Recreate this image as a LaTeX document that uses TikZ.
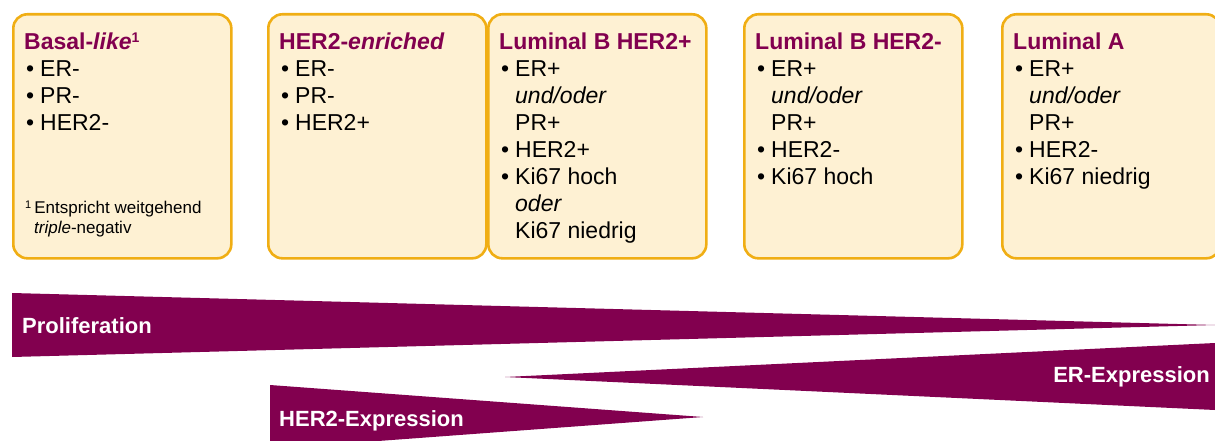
\documentclass[tikz,border=0pt]{standalone}
\usepackage{fontspec}
\setmainfont{Liberation Sans}
\usepackage{tikz}
\usetikzlibrary{calc}
\usepackage{xcolor}
\definecolor{lila}{HTML}{82004F}
\definecolor{creme}{HTML}{FEF1D3}
\definecolor{gold}{HTML}{F0AE14}
\newcommand{\pkt}[1]{\makebox[16pt][l]{\hspace{2pt}\textbullet}#1}
\newcommand{\weiter}[1]{\hspace*{16pt}#1}
\newcommand{\titel}[1]{\rule{0pt}{22pt}\textcolor{lila}{\bfseries #1}}
\newcommand{\hoch}[2]{\raisebox{#2}{\fontsize{#1}{#1}\selectfont 1}}
\tikzset{
    kasten/.style = {draw = gold, line width = 2.6pt, fill = creme, rounded corners = 14pt,
        minimum width = 218pt, minimum height = 244pt, anchor = north west, inner sep = 0pt},
    inhalt/.style = {anchor = north west, align = left, inner sep = 0pt,
        font = \fontsize{23}{27}\selectfont},
    keil/.style = {fill = lila},
    keiltext/.style = {text = white, inner sep = 0pt, font = \fontsize{22}{26}\selectfont\bfseries}
}

\begin{document}
\begin{tikzpicture}[x = 1pt, y = -1pt]
    % Rahmen
    \useasboundingbox (0,0) rectangle (1215,441);
    % Kaesten
    \node[kasten] (basal) at (12,13) {};
    \node[kasten] (her2) at (267,13) {};
    \node[kasten] (lumbpos) at (487,13) {};
    \node[kasten] (lumbneg) at (743,13) {};
    \node[kasten] (luma) at (1001,13) {};
    % Texte
    \node[inhalt] (basaltxt) at ($(basal.north west)+(12,14)$) {%
        \titel{Basal-\textit{like}\hoch{14}{7pt}}\\
        \pkt{ER-}\\
        \pkt{PR-}\\
        \pkt{HER2-}};
    \node[inhalt, font = \fontsize{17}{20}\selectfont] (fussnote) at ($(basal.north west)+(13,183)$) {%
        \rule{0pt}{17pt}\hoch{11}{5pt}\hspace{3pt}Entspricht weitgehend\\
        \hspace*{9pt}\textit{triple}-negativ};
    \node[inhalt] (her2txt) at ($(her2.north west)+(12,14)$) {%
        \titel{HER2-\textit{enriched}}\\
        \pkt{ER-}\\
        \pkt{PR-}\\
        \pkt{HER2+}};
    \node[inhalt] (lumbpostxt) at ($(lumbpos.north west)+(12,14)$) {%
        \titel{Luminal B HER2+}\\
        \pkt{ER+}\\
        \weiter{\textit{und/oder}}\\
        \weiter{PR+}\\
        \pkt{HER2+}\\
        \pkt{Ki67 hoch}\\
        \weiter{\textit{oder}}\\
        \weiter{Ki67 niedrig}};
    \node[inhalt] (lumbnegtxt) at ($(lumbneg.north west)+(12,14)$) {%
        \titel{Luminal B HER2-}\\
        \pkt{ER+}\\
        \weiter{\textit{und/oder}}\\
        \weiter{PR+}\\
        \pkt{HER2-}\\
        \pkt{Ki67 hoch}};
    \node[inhalt] (lumatxt) at ($(luma.north west)+(12,14)$) {%
        \titel{Luminal A}\\
        \pkt{ER+}\\
        \weiter{\textit{und/oder}}\\
        \weiter{PR+}\\
        \pkt{HER2-}\\
        \pkt{Ki67 niedrig}};
    % Keile
    \fill[keil] (12,293) -- (1215,325) -- (12,357) -- cycle;
    \fill[keil] (505,377) -- (1215,343) -- (1215,410) -- cycle;
    \fill[keil] (270,385) -- (703,417) -- (270,449) -- cycle;
    \node[keiltext, anchor = west] (prolif) at (22,326) {Proliferation};
    \node[keiltext, anchor = east] (erexp) at (1210,377) {ER-Expression};
    \node[keiltext, anchor = west] (her2exp) at (279,421) {HER2-Expression};
\end{tikzpicture}
\end{document}
